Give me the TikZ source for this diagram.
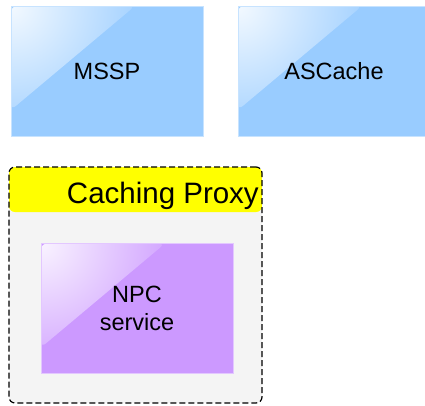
\documentclass[tikz,border=0pt]{standalone}
\usepackage{fontspec}
\setmainfont{Liberation Sans}
\usetikzlibrary{positioning}

\definecolor{nodeblue}{HTML}{99CCFF}
\definecolor{nodepurple}{HTML}{CC99FF}
\definecolor{proxygray}{HTML}{F4F4F4}
\definecolor{proxyyellow}{HTML}{FFFF00}

\tikzset{
  svcbox/.style={fill=#1, draw=#1!55!white, line width=0.8pt,
    minimum width=192pt, minimum height=130pt, inner sep=0pt,
    font=\fontsize{23.5}{28}\selectfont,
    path picture={
      % glossy corner
      \clip[rounded corners=6pt] (path picture bounding box.north west)
        -- ++(124pt,0pt) -- ++(-124pt,-104pt) -- cycle;
      \shade[inner color=#1!12!white, outer color=#1!90!white]
        (path picture bounding box.north west) circle (130pt);
    }},
  proxybox/.style={draw, dash pattern=on 6pt off 3pt, line width=1.2pt,
    rounded corners=6pt, fill=proxygray,
    minimum width=253pt, minimum height=236pt,
    path picture={
      \fill[proxyyellow] (path picture bounding box.north west)
        rectangle ([yshift=-45pt]path picture bounding box.north east);
    }},
}

\begin{document}
\begin{tikzpicture}[x=1pt, y=-1pt]
  \path[use as bounding box, clip] (0,0) rectangle (425,405);

  % services on top
  \node[svcbox=nodeblue] (mssp) at (107,71) {MSSP};
  \node[svcbox=nodeblue] (ascache) at (334,71) {ASCache};

  % caching proxy container
  \node[proxybox] (proxy) at (135.5,285) {};
  \node[anchor=base east, inner sep=0pt, font=\fontsize{29.5}{34}\selectfont]
    (proxytitle) at (259,203) {Caching Proxy};

  \node[svcbox=nodepurple, align=center] (npc) at (137,308.5) {NPC\\service};
\end{tikzpicture}
\end{document}
